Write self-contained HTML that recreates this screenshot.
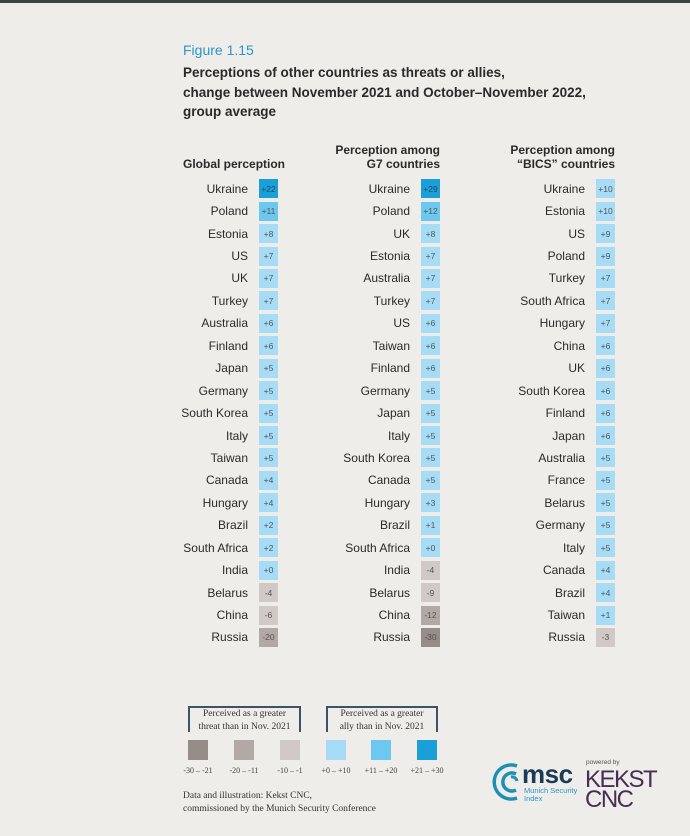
<!DOCTYPE html>
<html><head><meta charset="utf-8"><style>
body{margin:0;width:690px;height:836px;background:#eeedea;position:relative;overflow:hidden;font-family:"Liberation Sans",sans-serif;color:#2a2a2a}
.top{position:absolute;left:0;top:0;width:690px;height:3px;background:#3e4240}
.a{position:absolute}
.col{position:absolute;top:177.5px}
.r{height:22.45px;display:flex;align-items:center}
.r span{text-align:right;font-size:12px;display:inline-block}
.r b{font-weight:normal;width:19px;height:19px;font-size:8.5px;display:flex;align-items:center;justify-content:center;color:#555;margin-left:11px}
.d{background:#1a9fd8;color:#1d4a66!important}.m{background:#6dc8ef}.l{background:#a6dcf5}.g1{background:#d0c9c6}.g2{background:#b2a8a4}.g3{background:#968c88}
.h{font-size:12px;font-weight:bold;line-height:14px}
.lg{position:absolute;top:740px;width:20px;height:20px}
.ll{position:absolute;top:766px;font-family:"Liberation Serif",serif;font-size:8px;color:#444;width:50px;text-align:center}
.br{position:absolute;top:706px;height:24px;border:2px solid #3e5266;border-bottom:none;font-family:"Liberation Serif",serif;font-size:9.5px;text-align:center;line-height:13px;color:#333}
</style></head><body>
<div class="top"></div>
<div class="a" style="left:183px;top:42px;font-size:14px;color:#2d95c8">Figure 1.15</div>
<div class="a" style="left:183px;top:63px;font-size:13.5px;font-weight:bold;line-height:19.5px">Perceptions of other countries as threats or allies,<br>change between November 2021 and October–November 2022,<br>group average</div>
<div class="a h" style="left:183px;top:157px">Global perception</div>
<div class="a h" style="left:300px;width:140px;text-align:right;top:143px">Perception among<br>G7 countries</div>
<div class="a h" style="left:470px;width:145px;text-align:right;top:143px">Perception among<br>“BICS” countries</div>

<div class="col" style="left:150px">
<div class="r"><span style="width:98px">Ukraine</span><b class="d">+22</b></div>
<div class="r"><span style="width:98px">Poland</span><b class="m">+11</b></div>
<div class="r"><span style="width:98px">Estonia</span><b class="l">+8</b></div>
<div class="r"><span style="width:98px">US</span><b class="l">+7</b></div>
<div class="r"><span style="width:98px">UK</span><b class="l">+7</b></div>
<div class="r"><span style="width:98px">Turkey</span><b class="l">+7</b></div>
<div class="r"><span style="width:98px">Australia</span><b class="l">+6</b></div>
<div class="r"><span style="width:98px">Finland</span><b class="l">+6</b></div>
<div class="r"><span style="width:98px">Japan</span><b class="l">+5</b></div>
<div class="r"><span style="width:98px">Germany</span><b class="l">+5</b></div>
<div class="r"><span style="width:98px">South Korea</span><b class="l">+5</b></div>
<div class="r"><span style="width:98px">Italy</span><b class="l">+5</b></div>
<div class="r"><span style="width:98px">Taiwan</span><b class="l">+5</b></div>
<div class="r"><span style="width:98px">Canada</span><b class="l">+4</b></div>
<div class="r"><span style="width:98px">Hungary</span><b class="l">+4</b></div>
<div class="r"><span style="width:98px">Brazil</span><b class="l">+2</b></div>
<div class="r"><span style="width:98px">South Africa</span><b class="l">+2</b></div>
<div class="r"><span style="width:98px">India</span><b class="l">+0</b></div>
<div class="r"><span style="width:98px">Belarus</span><b class="g1">-4</b></div>
<div class="r"><span style="width:98px">China</span><b class="g1">-6</b></div>
<div class="r"><span style="width:98px">Russia</span><b class="g2">-20</b></div>
</div>

<div class="col" style="left:310px">
<div class="r"><span style="width:100px">Ukraine</span><b class="d">+29</b></div>
<div class="r"><span style="width:100px">Poland</span><b class="m">+12</b></div>
<div class="r"><span style="width:100px">UK</span><b class="l">+8</b></div>
<div class="r"><span style="width:100px">Estonia</span><b class="l">+7</b></div>
<div class="r"><span style="width:100px">Australia</span><b class="l">+7</b></div>
<div class="r"><span style="width:100px">Turkey</span><b class="l">+7</b></div>
<div class="r"><span style="width:100px">US</span><b class="l">+6</b></div>
<div class="r"><span style="width:100px">Taiwan</span><b class="l">+6</b></div>
<div class="r"><span style="width:100px">Finland</span><b class="l">+6</b></div>
<div class="r"><span style="width:100px">Germany</span><b class="l">+5</b></div>
<div class="r"><span style="width:100px">Japan</span><b class="l">+5</b></div>
<div class="r"><span style="width:100px">Italy</span><b class="l">+5</b></div>
<div class="r"><span style="width:100px">South Korea</span><b class="l">+5</b></div>
<div class="r"><span style="width:100px">Canada</span><b class="l">+5</b></div>
<div class="r"><span style="width:100px">Hungary</span><b class="l">+3</b></div>
<div class="r"><span style="width:100px">Brazil</span><b class="l">+1</b></div>
<div class="r"><span style="width:100px">South Africa</span><b class="l">+0</b></div>
<div class="r"><span style="width:100px">India</span><b class="g1">-4</b></div>
<div class="r"><span style="width:100px">Belarus</span><b class="g1">-9</b></div>
<div class="r"><span style="width:100px">China</span><b class="g2">-12</b></div>
<div class="r"><span style="width:100px">Russia</span><b class="g3">-30</b></div>
</div>

<div class="col" style="left:485px">
<div class="r"><span style="width:100px">Ukraine</span><b class="l">+10</b></div>
<div class="r"><span style="width:100px">Estonia</span><b class="l">+10</b></div>
<div class="r"><span style="width:100px">US</span><b class="l">+9</b></div>
<div class="r"><span style="width:100px">Poland</span><b class="l">+9</b></div>
<div class="r"><span style="width:100px">Turkey</span><b class="l">+7</b></div>
<div class="r"><span style="width:100px">South Africa</span><b class="l">+7</b></div>
<div class="r"><span style="width:100px">Hungary</span><b class="l">+7</b></div>
<div class="r"><span style="width:100px">China</span><b class="l">+6</b></div>
<div class="r"><span style="width:100px">UK</span><b class="l">+6</b></div>
<div class="r"><span style="width:100px">South Korea</span><b class="l">+6</b></div>
<div class="r"><span style="width:100px">Finland</span><b class="l">+6</b></div>
<div class="r"><span style="width:100px">Japan</span><b class="l">+6</b></div>
<div class="r"><span style="width:100px">Australia</span><b class="l">+5</b></div>
<div class="r"><span style="width:100px">France</span><b class="l">+5</b></div>
<div class="r"><span style="width:100px">Belarus</span><b class="l">+5</b></div>
<div class="r"><span style="width:100px">Germany</span><b class="l">+5</b></div>
<div class="r"><span style="width:100px">Italy</span><b class="l">+5</b></div>
<div class="r"><span style="width:100px">Canada</span><b class="l">+4</b></div>
<div class="r"><span style="width:100px">Brazil</span><b class="l">+4</b></div>
<div class="r"><span style="width:100px">Taiwan</span><b class="l">+1</b></div>
<div class="r"><span style="width:100px">Russia</span><b class="g1">-3</b></div>
</div>

<div class="br" style="left:188px;width:109px">Perceived as a greater<br>threat than in Nov. 2021</div>
<div class="br" style="left:326px;width:108px">Perceived as a greater<br>ally than in Nov. 2021</div>
<div class="lg g3" style="left:188px"></div>
<div class="lg g2" style="left:234px"></div>
<div class="lg g1" style="left:280px"></div>
<div class="lg l" style="left:326px"></div>
<div class="lg m" style="left:371px"></div>
<div class="lg d" style="left:417px"></div>
<div class="ll" style="left:173px">-30 – -21</div>
<div class="ll" style="left:219px">-20 – -11</div>
<div class="ll" style="left:265px">-10 – -1</div>
<div class="ll" style="left:311px">+0 – +10</div>
<div class="ll" style="left:356px">+11 – +20</div>
<div class="ll" style="left:402px">+21 – +30</div>
<div class="a" style="left:183px;top:790px;font-family:'Liberation Serif',serif;font-size:9.5px;line-height:13px;color:#333">Data and illustration: Kekst CNC,<br>commissioned by the Munich Security Conference</div>

<svg class="a" style="left:489px;top:762px" width="40" height="40" viewBox="0 0 40 40">
<path d="M28 4 A17 17 0 1 0 28 36" fill="none" stroke="#1d8fb5" stroke-width="3.5"/>
<path d="M27 12 A9 9 0 1 0 27 28" fill="none" stroke="#1d8fb5" stroke-width="3.5"/>
<path d="M22 15 A5 5 0 0 1 28 19" fill="none" stroke="#1d8fb5" stroke-width="3"/>
</svg>
<div class="a" style="left:522px;top:759px;font-size:26px;color:#1b3a55;font-weight:bold;letter-spacing:-0.5px">msc</div>
<div class="a" style="left:524px;top:787px;font-size:7.5px;color:#2d95c8;line-height:8px">Munich Security<br>Index</div>
<div class="a" style="left:586px;top:759px;font-size:6.5px;color:#555">powered by</div>
<div class="a" style="left:585px;top:770px;font-size:24px;color:#4a2d55;line-height:20px;letter-spacing:-1.5px">KEKST<br>CNC</div>
</body></html>
